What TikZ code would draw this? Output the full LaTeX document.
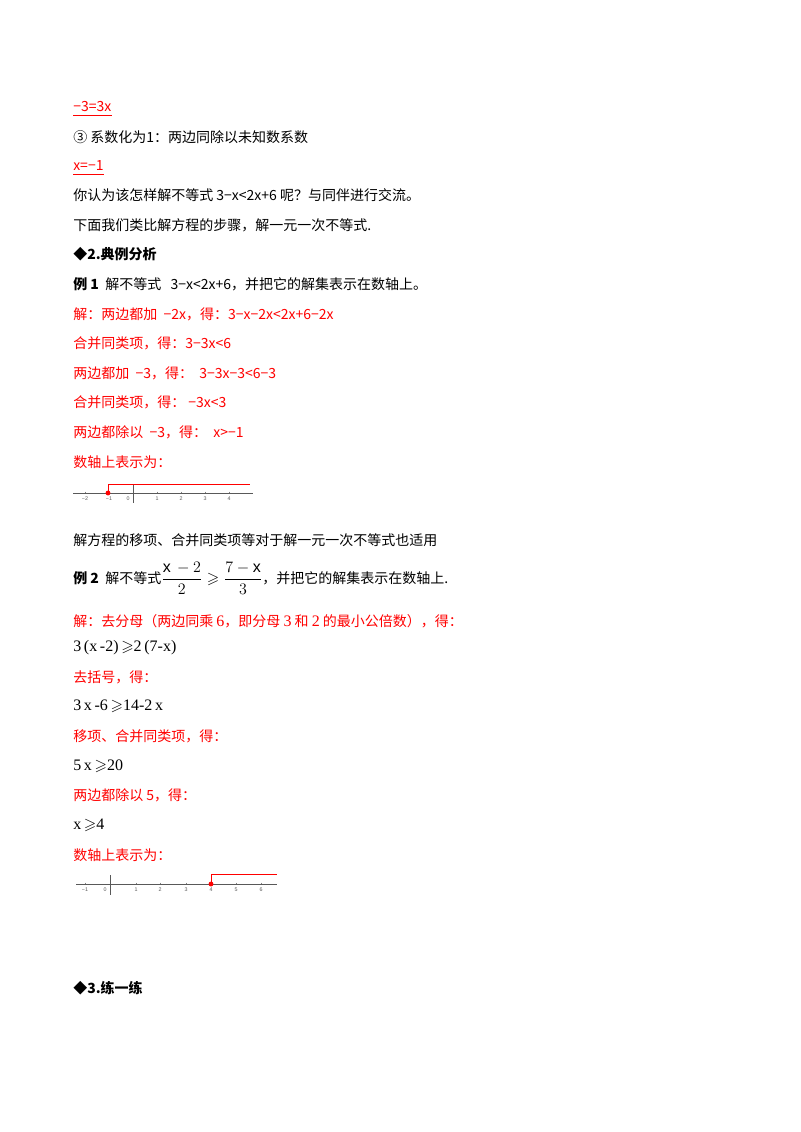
\documentclass[tikz,border=0pt]{standalone}
\usepackage{amssymb,amsmath}
\usepackage{fontspec}
\setmainfont{Liberation Sans}
\newfontfamily\cjk{Noto Sans CJK SC}
\newfontfamily\ser{Liberation Serif}
\newcommand{\gq}{\,$\geqslant$}
\begin{document}
\begin{tikzpicture}[x=0.75pt,y=-0.75pt,
  tx/.style={anchor=west,inner sep=0pt,font=\cjk\fontsize{10.5}{12}\selectfont},
  rd/.style={tx,text=red},
  mt/.style={anchor=west,inner sep=0pt,font=\ser\fontsize{12}{14}\selectfont},
  tk/.style={font=\fontsize{4}{5}\selectfont,text=gray!70!black,inner sep=0pt}]
\useasboundingbox (0,0) rectangle (800,1132);
\node[rd] (l1) at (73,107) {−3=3x};
\draw[red] (73,115) -- (l1.east |- 0,115);
\node[tx] (l2) at (73,137) {③ 系数化为1：两边同除以未知数系数};
\node[rd] (l3) at (73,166) {x=−1};
\draw[red] (73,174) -- (l3.east |- 0,174);
\node[tx] (l4) at (73,195) {你认为该怎样解不等式 3−x<2x+6 呢？与同伴进行交流。};
\node[tx] (l5) at (73,225) {下面我们类比解方程的步骤，解一元一次不等式.};
\node[tx] (l6) at (73,254) {\bfseries ◆2.典例分析};
\node[tx] (l7) at (73,284) {\bfseries 例 1\mdseries\ \ 解不等式\ \ \ 3−x<2x+6，并把它的解集表示在数轴上。};
\node[rd] (l8) at (73,314) {解：两边都加\ \ −2x，得：3−x−2x<2x+6−2x};
\node[rd] (l9) at (73,343) {合并同类项，得：3−3x<6};
\node[rd] (l10) at (73,373) {两边都加\ \ −3，得：\ \ 3−3x−3<6−3};
\node[rd] (l11) at (73,402) {合并同类项，得：\ −3x<3};
\node[rd] (l12) at (73,432) {两边都除以\ \ −3，得：\ \ x>−1};
\node[rd] (l13) at (73,462) {数轴上表示为：};
% number line 1
\coordinate (a1) at (73,493); \coordinate (a2) at (253,493);
\draw[gray!70!black,line width=0.5pt] (a1) -- (a2);
\draw[gray!70!black,line width=0.7pt] (133,484) -- (133,503);
\foreach \v/\x in {−2/85,−1/109,1/157,2/181,3/205,4/229}{\draw[gray,line width=0.3pt] (\x,491.5)--(\x,493); \node[tk] at (\x,499) {\v};}
\node[tk] at (128,499) {0};
\node[circle,fill=red,inner sep=1.3pt] (d1) at (108,493) {};
\draw[red,line width=0.7pt] (d1.center) -- (108,484) -- (250,484);
\node[tx] (l14) at (73,540) {解方程的移项、合并同类项等对于解一元一次不等式也适用};
\node[tx] (l15) at (73,578) {\bfseries 例 2\mdseries\ \ 解不等式{\ser\fontsize{12}{14}\selectfont$\dfrac{\mathrm{x}\,-2}{2}\geqslant\dfrac{7-\mathrm{x}}{3}$}，并把它的解集表示在数轴上.};
\node[rd] (l16) at (73,621) {解：去分母（两边同乘 {\ser\large 6}，即分母 {\ser\large 3} 和 {\ser\large 2} 的最小公倍数），得：};
\node[mt] (l17) at (73,648) {3\,(x\,-2)\gq2\,(7-x)};
\node[rd] (l18) at (73,677) {去括号，得：};
\node[mt] (l19) at (73,706) {3\,x\,-6\gq14-2\,x};
\node[rd] (l20) at (73,736) {移项、合并同类项，得：};
\node[mt] (l21) at (73,766) {5\,x\gq20};
\node[rd] (l22) at (73,795) {两边都除以\ 5，得：};
\node[mt] (l23) at (73,825) {x\gq4};
\node[rd] (l24) at (73,855) {数轴上表示为：};
% number line 2
\coordinate (b1) at (76,884); \coordinate (b2) at (277,884);
\draw[gray!70!black,line width=0.5pt] (b1) -- (b2);
\draw[gray!70!black,line width=0.7pt] (110,875) -- (110,895);
\foreach \v/\x in {−1/85,1/136,2/160,3/186,4/211,5/236,6/261}{\draw[gray,line width=0.3pt] (\x,882.5)--(\x,884); \node[tk] at (\x,890) {\v};}
\node[tk] at (105,890) {0};
\node[circle,fill=red,inner sep=1.3pt] (d2) at (211,884) {};
\draw[red,line width=0.7pt] (d2.center) -- (211,874) -- (277,874);
\node[tx] (l25) at (73,988) {\bfseries ◆3.练一练};
\end{tikzpicture}
\end{document}
